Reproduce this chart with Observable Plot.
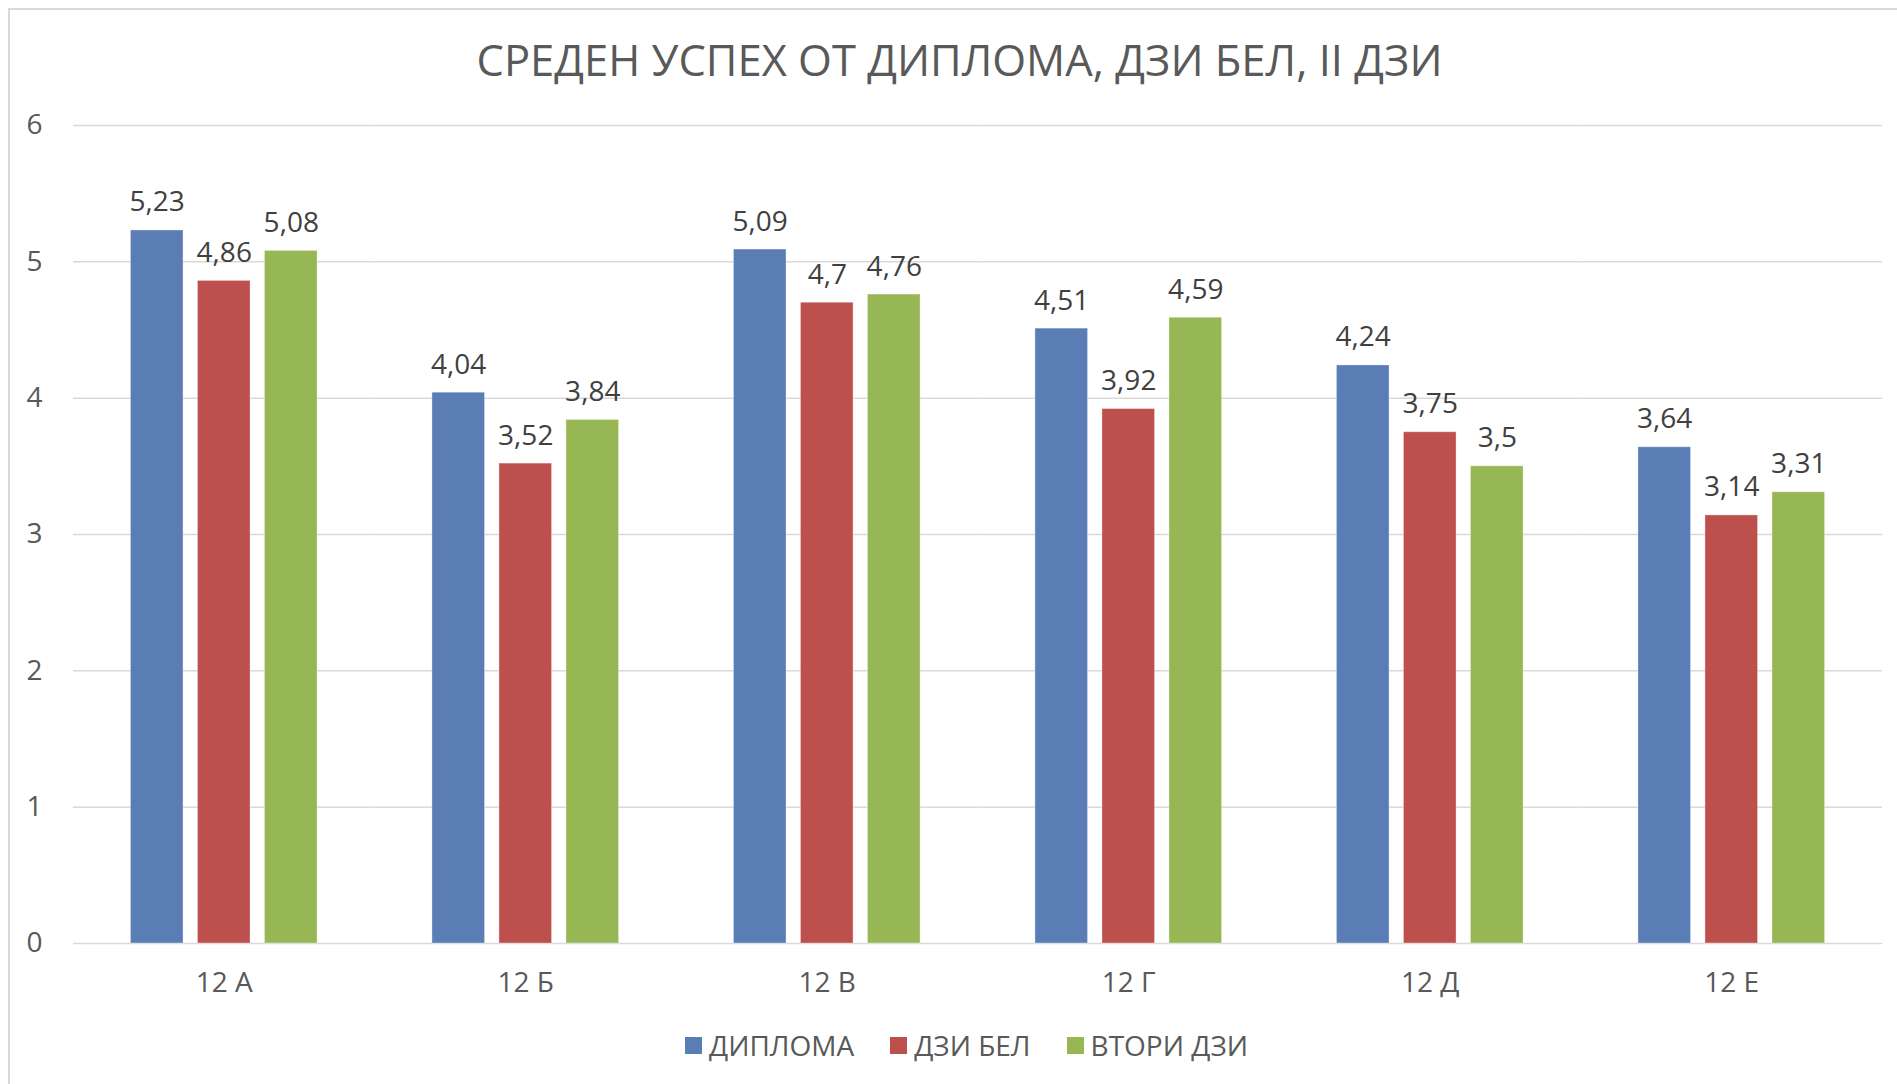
<!DOCTYPE html>
<html>
<head>
<meta charset="utf-8">
<script src="https://cdn.jsdelivr.net/npm/d3@7"></script>
<script src="https://cdn.jsdelivr.net/npm/@observablehq/plot@0.6"></script>
<style>
  html, body { margin: 0; padding: 0; background: #fff; overflow: hidden; }
  #frame { position: absolute; left: 0; top: 0; width: 1897px; height: 1084px; overflow: hidden; font-family: "Open Sans", sans-serif; }
  #border { position: absolute; left: 8px; top: 8px; width: 2000px; height: 2000px; border-top: 2px solid #d9d9d9; border-left: 2px solid #d9d9d9; }
  #title { position: absolute; left: 11px; width: 1897px; top: 30px; text-align: center; font-size: 43.5px; color: #595959; line-height: 60px; }
  #chart { position: absolute; left: 0; top: 0; }
  #legend { position: absolute; left: 18px; width: 1897px; top: 1025px; display: flex; justify-content: center; align-items: center; font-size: 28px; color: #595959; line-height: 40px; }
  .item { display: flex; align-items: center; margin: 0 18px; }
  .sw { width: 17px; height: 17px; margin-right: 7px; }
</style>
</head>
<body>
<div id="frame">
  <div id="border"></div>
  <div id="title">СРЕДЕН УСПЕХ ОТ ДИПЛОМА, ДЗИ БЕЛ, II ДЗИ</div>
  <div id="chart"></div>
  <div id="legend"></div>
</div>
<script>
const classes = ["12 А", "12 Б", "12 В", "12 Г", "12 Д", "12 Е"];
const series = ["ДИПЛОМА", "ДЗИ БЕЛ", "ВТОРИ ДЗИ"];
const diploma = [5.23, 4.04, 5.09, 4.51, 4.24, 3.64];
const dziBel = [4.86, 3.52, 4.70, 3.92, 3.75, 3.14];
const vtoriDzi = [5.08, 3.84, 4.76, 4.59, 3.50, 3.31];
const labels = [
  ["5,23", "4,04", "5,09", "4,51", "4,24", "3,64"],
  ["4,86", "3,52", "4,7", "3,92", "3,75", "3,14"],
  ["5,08", "3,84", "4,76", "4,59", "3,5", "3,31"]
];
const colors = ["#5B7DB5", "#BD4F4D", "#97B755"];
const yTicks = [0, 1, 2, 3, 4, 5, 6];

const valueArrays = [diploma, dziBel, vtoriDzi];
const data = [];
classes.forEach((c, i) => {
  series.forEach((s, j) => {
    data.push({cls: c, series: s, value: valueArrays[j][i], label: labels[j][i]});
  });
});

const font = "Open Sans, sans-serif";
const chart = Plot.plot({
  width: 1897,
  height: 1010,
  marginTop: 125,
  marginBottom: 67,
  marginLeft: 73,
  marginRight: 15,
  style: {fontFamily: font, fontSize: "28px", color: "#595959", background: "transparent"},
  fx: {domain: classes, padding: 0, round: false, label: null, axis: null},
  x: {domain: series, paddingInner: 0.215, paddingOuter: 0.857, round: false, axis: null},
  y: {domain: [0, 6], ticks: yTicks, label: null, axis: null},
  color: {domain: series, range: colors},
  marks: [
    Plot.ruleY(yTicks, {stroke: "#d9d9d9", strokeWidth: 1.5}),
    Plot.axisY({ticks: yTicks, tickFormat: "d", tickSize: 0, tickPadding: 31, label: null, fontSize: 28, fill: "#595959"}),
    Plot.axisFx({anchor: "bottom", tickSize: 0, tickPadding: 29, label: null, fontSize: 28, fill: "#595959"}),
    Plot.barY(data, {fx: "cls", x: "series", y: "value", fill: "series", stroke: "#ffffff", strokeOpacity: 0.35, strokeWidth: 1}),
    Plot.text(data, {fx: "cls", x: "series", y: "value", text: "label", lineAnchor: "bottom", dy: -19, fontSize: 28, fill: "#404040"})
  ]
});
document.getElementById("chart").appendChild(chart);

const colorScale = chart.scale("color");
const legendDiv = document.getElementById("legend");
series.forEach(s => {
  const item = document.createElement("div");
  item.className = "item";
  const sw = document.createElement("span");
  sw.className = "sw";
  sw.style.background = colorScale.apply(s);
  const t = document.createElement("span");
  t.textContent = s;
  item.appendChild(sw);
  item.appendChild(t);
  legendDiv.appendChild(item);
});
</script>
</body>
</html>
